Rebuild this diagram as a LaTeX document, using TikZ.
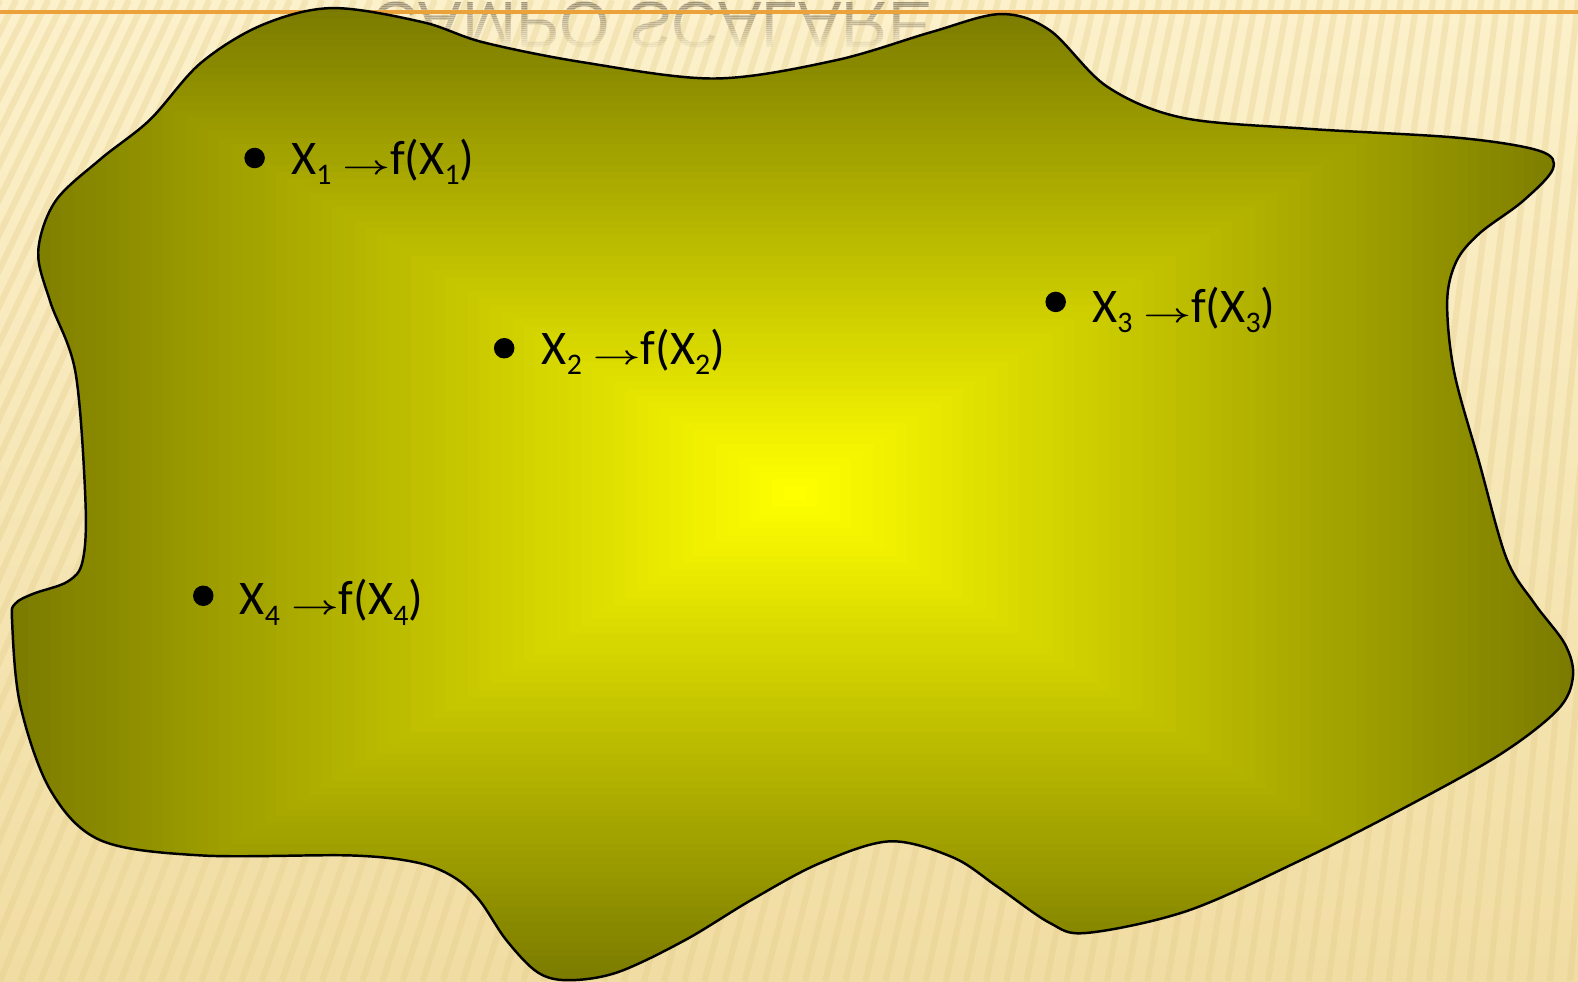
\documentclass[tikz,border=0pt]{standalone}
\usepackage{fontspec}
\setmainfont{Carlito}
\newfontfamily\titlefont{Liberation Sans}
\definecolor{olivedk}{HTML}{7A7A00}
\definecolor{yelc}{HTML}{FFFF00}
\definecolor{bgtop}{HTML}{FCF1CB}
\definecolor{bgbot}{HTML}{F1DDA3}
\definecolor{stripec}{HTML}{E2CA86}
\definecolor{orangeln}{HTML}{EBA23A}
\definecolor{reflc}{HTML}{6A6050}
\newcommand\lsub[1]{\raisebox{-6pt}{\fontsize{17}{17}\selectfont #1}}
\newcommand\larr{\scalebox{0.95}[0.6]{\boldmath$\rightarrow$}}
\begin{document}
\begin{tikzpicture}[x=0.020128cm, y=-0.020128cm,
  stripe/.style={line width=3.5pt, stripec, opacity=0.3},
  dotnode/.style={circle, fill=black, inner sep=0pt, minimum size=0.41cm},
  lbl/.style={anchor=base west, inner sep=0pt, font=\fontsize{27.5}{27.5}\selectfont},
  refl/.style={anchor=base west, inner sep=0pt, yscale=-1, text=reflc, font=\titlefont\fontsize{37}{37}\selectfont},
  blob/.style={draw=black, line width=1.4pt}]
\useasboundingbox (0,0) rectangle (1568,975);
% background
\shade[top color=bgtop, bottom color=bgbot] (0,0) rectangle (1568,975);
\begin{scope}
  \clip (0,0) rectangle (1568,975);
  \foreach \i in {-40,...,80} \draw[stripe] ({20*\i},975) -- ({16*\i+400},0);
\end{scope}
% reflected title
\foreach \k in {0,...,24} {
  \pgfmathsetmacro\op{0.4*(1-\k/25)}
  \begin{scope}
    \clip (300,{2*\k}) rectangle (1000,{2*\k+2.2});
    \node[refl, opacity=\op] (title\k) at (369,2) {CAMPO SCALARE};
  \end{scope}
}
% orange rule
\coordinate (rl) at (0,12);
\coordinate (rr) at (1568,12);
\draw[orangeln, line width=1.9pt] (rl) -- (rr);
% blob with rectangular path gradient
\draw[blob, path picture={
  \foreach \k in {0,...,69} {
    \pgfmathsetmacro\s{1-\k/70}
    \pgfmathsetmacro\p{100*\k/69}
    \fill[yelc!\p!olivedk] ({790-785*\s},{490-485*\s}) rectangle ({790+780*\s},{490+488*\s});
  }
}] plot[smooth cycle, tension=0.55] coordinates {
  (330,8) (420,22) (480,42) (580,62) (710,78) (830,60) (925,32) (994,14)
  (1043,30) (1100,86) (1175,117) (1300,128) (1450,137) (1530,150) (1543,168)
  (1513,200) (1470,232) (1447,260) (1438,300) (1445,370) (1470,460) (1497,555)
  (1525,600) (1555,640) (1563,672) (1548,705) (1490,750) (1391,805) (1292,855)
  (1180,905) (1080,927) (1043,917) (991,881) (947,852) (884,836) (814,858)
  (747,894) (681,934) (614,966) (565,974) (534,966) (503,934) (476,894)
  (450,871) (414,857) (348,850) (200,850) (100,835) (50,785) (20,700)
  (12,617) (15,600) (33,590) (67,578) (82,558) (85,500) (75,370) (50,300)
  (38,250) (55,200) (100,158) (149,119) (199,63) (260,25)};
% labels
\node[dotnode] (dot1) at (253,157) {};
\node[lbl] (lab1) at (289,173) {X\lsub{1} \larr f(X\lsub{1})};
\node[dotnode] (dot2) at (501,346) {};
\node[lbl] (lab2) at (538,362) {X\lsub{2} \larr f(X\lsub{2})};
\node[dotnode] (dot3) at (1049,300) {};
\node[lbl] (lab3) at (1085,320) {X\lsub{3} \larr f(X\lsub{3})};
\node[dotnode] (dot4) at (202,592) {};
\node[lbl] (lab4) at (238,611) {X\lsub{4} \larr f(X\lsub{4})};
\end{tikzpicture}
\end{document}
